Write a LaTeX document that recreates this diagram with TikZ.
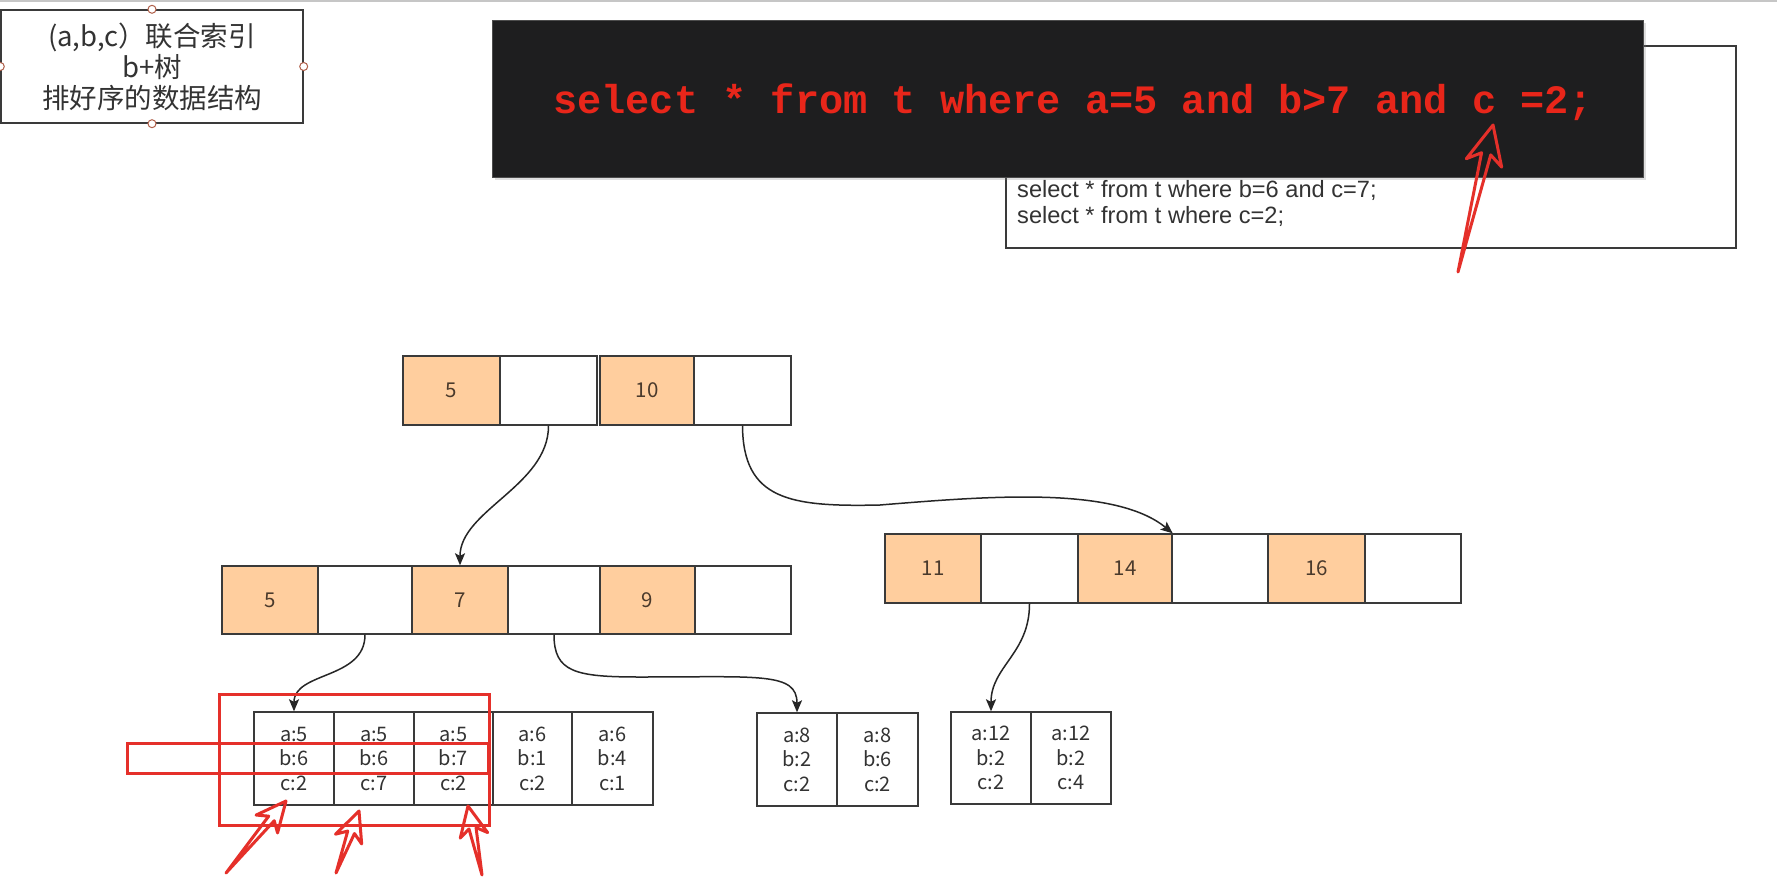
\documentclass[tikz,border=0pt]{standalone}
\usepackage{fontspec}
\setmainfont{Noto Sans CJK SC}
\newfontfamily\sqlmono{Liberation Mono}
\newfontfamily\notesans{Liberation Sans}
\usetikzlibrary{arrows.meta,calc,shadows}
\definecolor{orangeC}{HTML}{FFCE9E}
\definecolor{lineC}{HTML}{3A3A3A}
\definecolor{numC}{HTML}{4A3A2C}
\definecolor{txtC}{HTML}{333333}
\definecolor{redA}{HTML}{E5302A}
\definecolor{sqlred}{HTML}{E8261A}
\definecolor{darkC}{HTML}{1E1E1F}
\definecolor{handleC}{HTML}{B0604A}
\newcommand\tnumfont{\fontsize{20.5}{22}\selectfont}
\newcommand\tleaffont{\fontsize{20}{24.5}\selectfont}
\newcommand\tinfofont{\fontsize{27.5}{31}\selectfont}
\newcommand\tnotefont{\notesans\fontsize{23.6}{26}\selectfont}
\newcommand\tsqlfont{\sqlmono\bfseries\fontsize{40.3}{42}\selectfont}
% cell: style, name, x1, x2, y1, y2, text
\newcommand\mycell[7]{\node[#1, minimum width={#4-#3}, minimum height={#6-#5}] (#2) at ({(#3+#4)/2},{(#5+#6)/2}) {#7};}
% red hand-drawn arrow: start, tip, head length, inner length
\newcommand\redarr[4]{\draw[redann] (#2) -- ($(#2)!#3!25:(#1)$) -- ($(#2)!#4!9:(#1)$) -- (#1) -- ($(#2)!#4!-9:(#1)$) -- ($(#2)!#3!-25:(#1)$) -- cycle;}
\tikzset{
  cellbase/.style={draw=lineC, line width=1.4pt, inner sep=0pt, font=\tnumfont, text=numC},
  ocell/.style={cellbase, fill=orangeC},
  wcell/.style={cellbase, fill=white},
  leafcell/.style={draw=lineC, line width=1.4pt, fill=white, inner sep=0pt, align=center, font=\tleaffont, text=txtC},
  infobox/.style={draw=lineC, line width=1.4pt, fill=white, inner sep=0pt, align=center, font=\tinfofont, text=txtC},
  handle/.style={draw=handleC, fill=white, line width=1pt},
  notebox/.style={draw=lineC, line width=1.4pt, fill=white, inner sep=0pt},
  darkbox/.style={fill=darkC, draw=gray!60!black, line width=0.6pt, inner sep=0pt, drop shadow={shadow xshift=3pt, shadow yshift=-3pt, opacity=0.25}},
  conn/.style={draw=black!85, line width=1.5pt, -{Stealth[length=12pt,width=10pt,inset=2.5pt]}},
  redbox/.style={draw=redA, line width=3pt},
  redann/.style={draw=redA, line width=3pt, line join=round, line cap=round},
}
\begin{document}
\begin{tikzpicture}[x=1pt,y=-1pt]
\useasboundingbox (0,0) rectangle (1777,883);
\fill[white] (0,0) rectangle (1777,883);
\draw[gray!45, line width=2] (0,1) -- (1777,1);

% info box
\mycell{infobox}{idx}{1}{303}{10}{123}{(a,b,c）联合索引\\b+树\\排好序的数据结构}
\foreach \a in {north,south,east,west} \draw[handle] (idx.\a) circle (4);

% note box behind
\mycell{notebox}{note}{1006}{1736}{46}{248}{}
\node[anchor=base west, font=\tnotefont, text=txtC, inner sep=0pt] (n1) at (1017,197) {select * from t where b=6 and c=7;};
\node[anchor=base west, font=\tnotefont, text=txtC, inner sep=0pt] (n2) at (1017,223) {select * from t where c=2;};

% dark sql box
\mycell{darkbox}{sqlbox}{492}{1643}{20}{177}{}
\node[anchor=base west, font=\tsqlfont, text=sqlred, inner sep=0pt] (sql) at (553,113) {select * from t where a=5 and b>7 and c =2;};

% root
\mycell{ocell}{r1}{403}{500}{356}{425}{5}
\mycell{wcell}{r2}{500}{597}{356}{425}{}
\mycell{ocell}{r3}{600}{694}{356}{425}{10}
\mycell{wcell}{r4}{694}{791}{356}{425}{}

% level 2 left
\mycell{ocell}{l1}{222}{318}{566}{634}{5}
\mycell{wcell}{l2}{318}{412}{566}{634}{}
\mycell{ocell}{l3}{412}{508}{566}{634}{7}
\mycell{wcell}{l4}{508}{600}{566}{634}{}
\mycell{ocell}{l5}{600}{695}{566}{634}{9}
\mycell{wcell}{l6}{695}{791}{566}{634}{}

% level 2 right
\mycell{ocell}{m1}{885}{981}{534}{603}{11}
\mycell{wcell}{m2}{981}{1078}{534}{603}{}
\mycell{ocell}{m3}{1078}{1172}{534}{603}{14}
\mycell{wcell}{m4}{1172}{1268}{534}{603}{}
\mycell{ocell}{m5}{1268}{1365}{534}{603}{16}
\mycell{wcell}{m6}{1365}{1461}{534}{603}{}

% leaves
\mycell{leafcell}{a1}{254}{334}{712}{805}{a:5\\b:6\\c:2}
\mycell{leafcell}{a2}{334}{414}{712}{805}{a:5\\b:6\\c:7}
\mycell{leafcell}{a3}{414}{493}{712}{805}{a:5\\b:7\\c:2}
\mycell{leafcell}{a4}{493}{572}{712}{805}{a:6\\b:1\\c:2}
\mycell{leafcell}{a5}{572}{653}{712}{805}{a:6\\b:4\\c:1}
\mycell{leafcell}{b1}{757}{837}{713}{806}{a:8\\b:2\\c:2}
\mycell{leafcell}{b2}{837}{918}{713}{806}{a:8\\b:6\\c:2}
\mycell{leafcell}{c1}{951}{1031}{712}{804}{a:12\\b:2\\c:2}
\mycell{leafcell}{c2}{1031}{1111}{712}{804}{a:12\\b:2\\c:4}

% connectors
\draw[conn] (r2.south) .. controls +(0,60) and +(0,-55) .. (l3.north);
\draw[conn] (r4.south) .. controls (743,500) and (790,507) .. (880,505) .. controls (990,496) and (1115,486) .. (m3.north east);
\draw[conn] (l2.south) .. controls +(0,45) and +(0,-40) .. (a1.north);
\draw[conn] (l4.south) .. controls (554,672) and (575,677) .. (640,677) .. controls (760,677) and (797,672) .. (b1.north);
\draw[conn] (m2.south) .. controls +(0,50) and +(0,-45) .. (c1.north);

% red highlight boxes
\draw[redbox] (219,694) rectangle (489,825);
\draw[redbox] (127,743) rectangle (488,773);

% red hand-drawn arrows
\coordinate (s0) at (1458,272); \coordinate (t0) at (1493,125);
\coordinate (s1) at (226,873);  \coordinate (t1) at (286,801);
\coordinate (s2) at (336,873);  \coordinate (t2) at (359,811);
\coordinate (s3) at (482,875);  \coordinate (t3) at (468,806);
\redarr{s0}{t0}{43pt}{30pt}
\redarr{s1}{t1}{33pt}{23pt}
\redarr{s2}{t2}{33pt}{23pt}
\redarr{s3}{t3}{33pt}{23pt}
\end{tikzpicture}
\end{document}
